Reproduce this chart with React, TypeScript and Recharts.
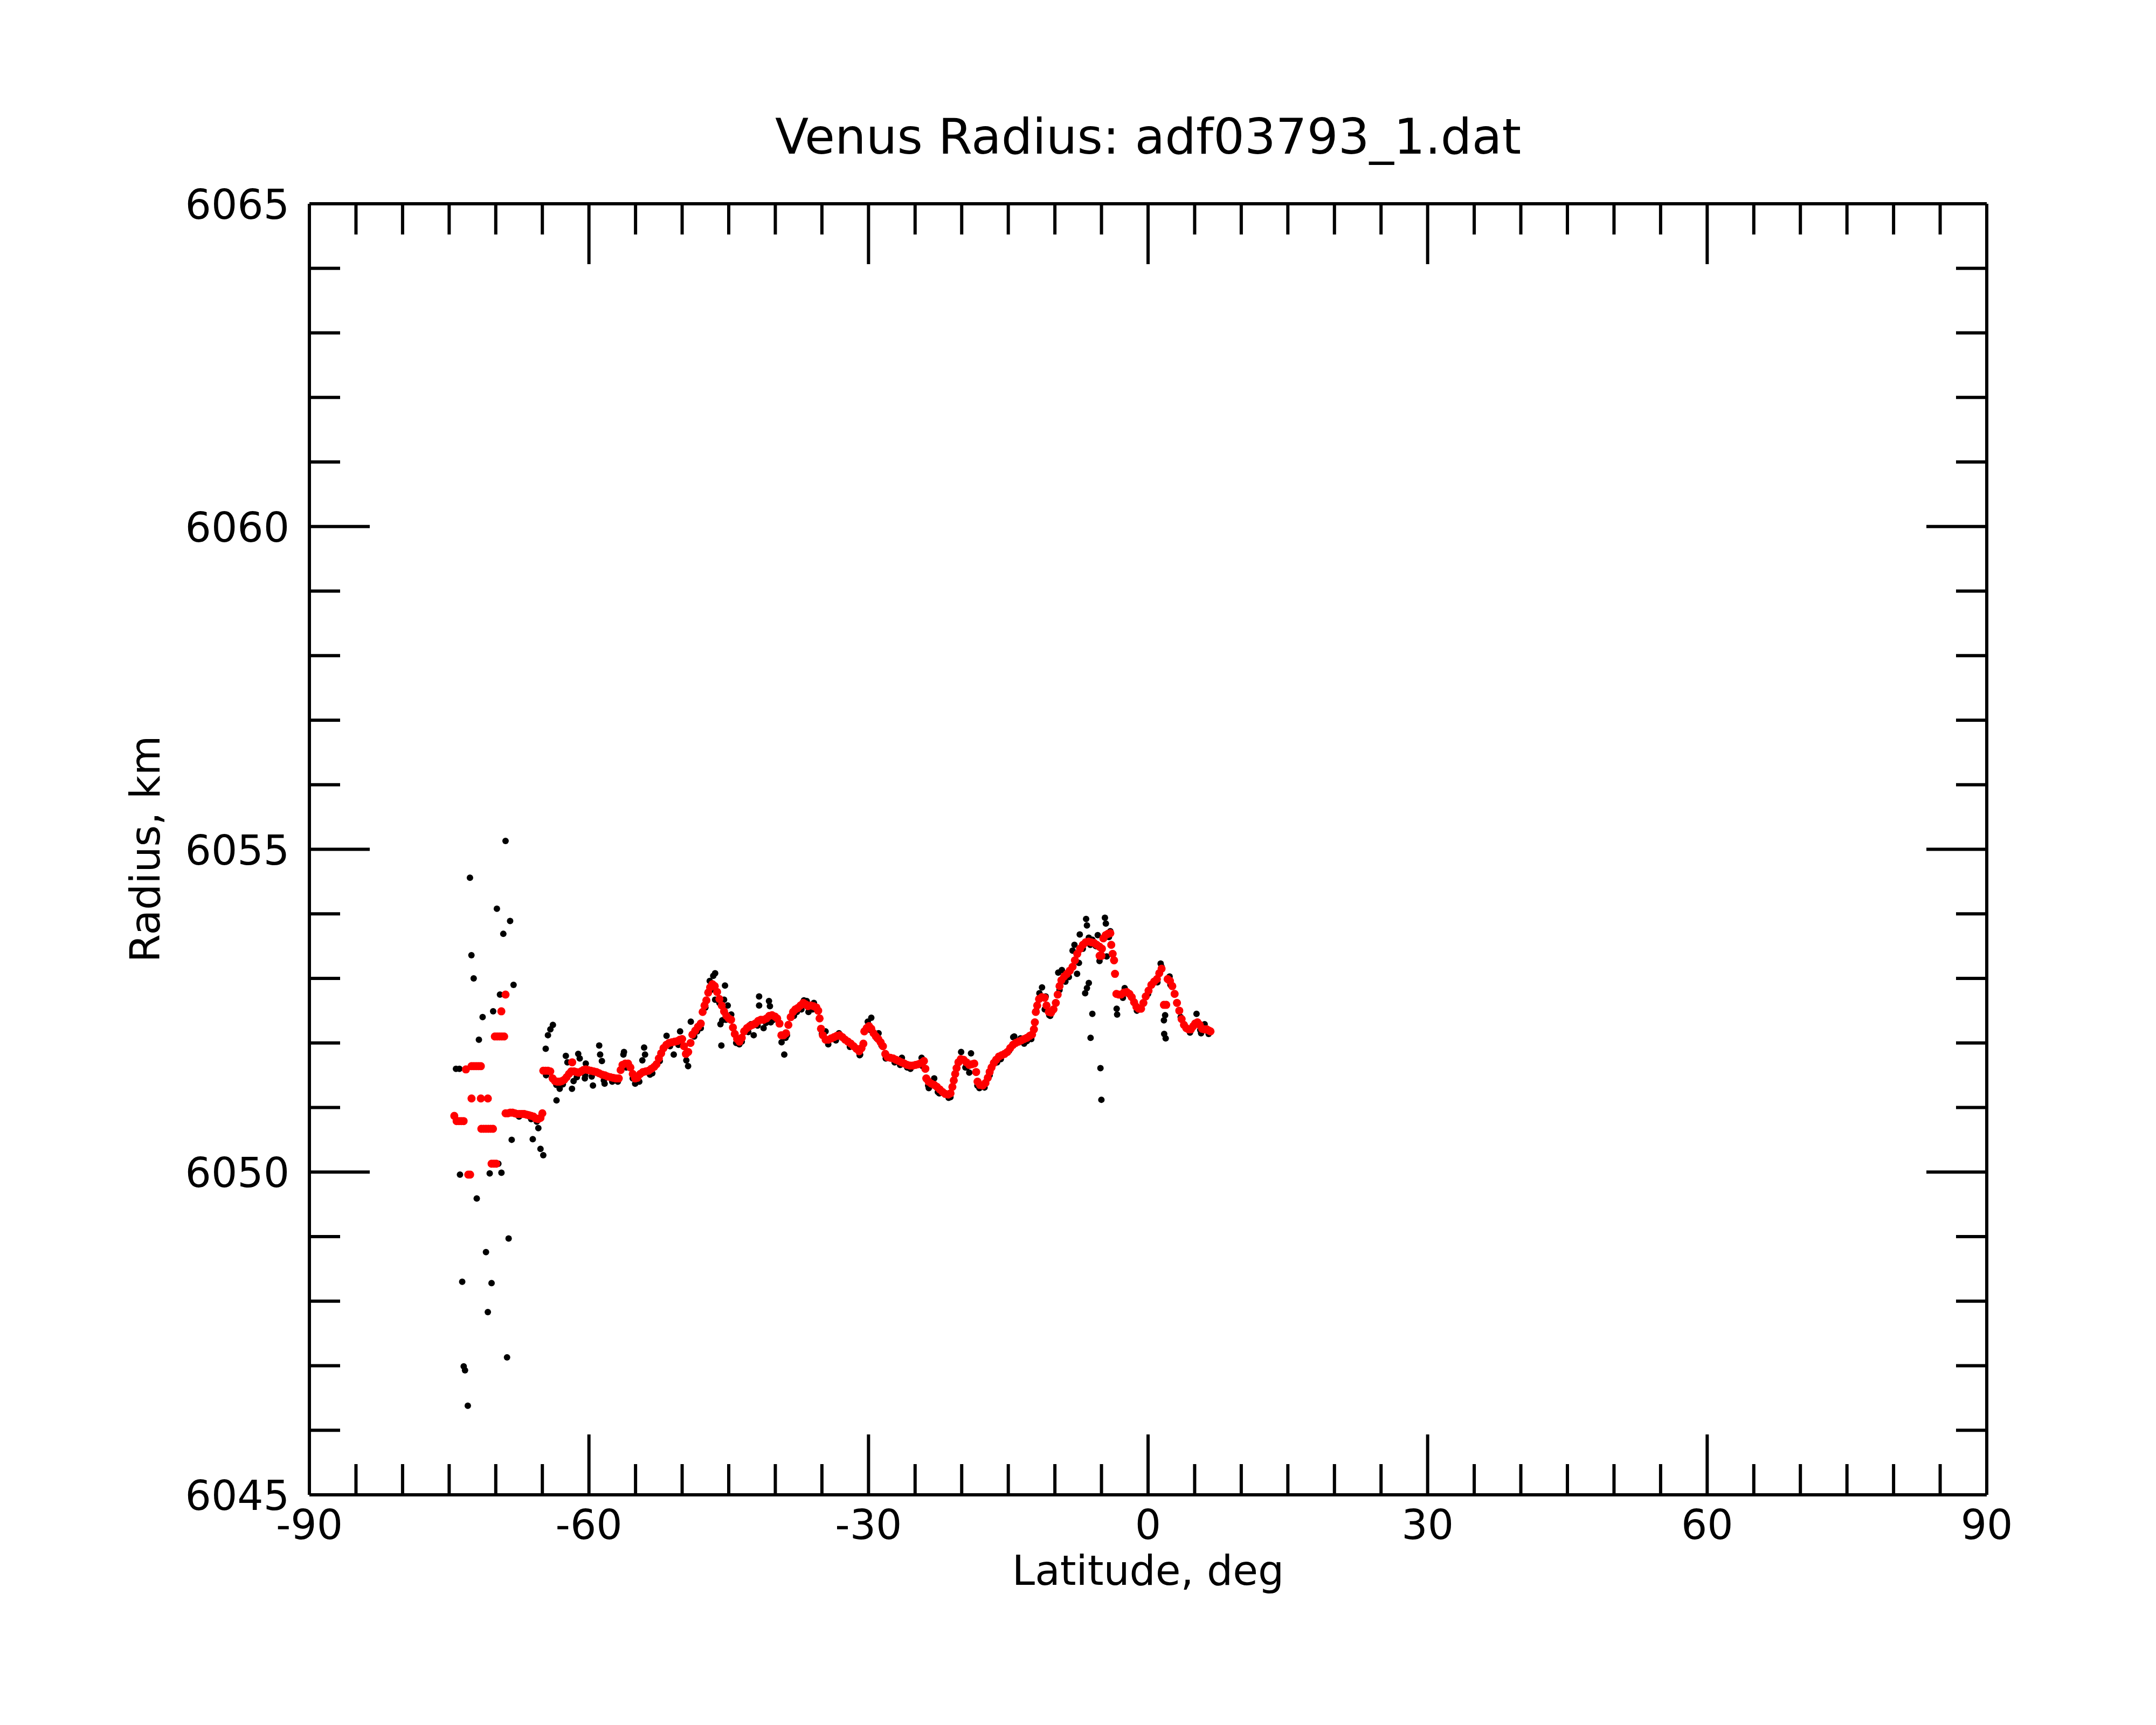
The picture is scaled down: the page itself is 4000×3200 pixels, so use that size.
import React from 'react';
import { ScatterChart, Scatter, XAxis, YAxis } from 'recharts';

// axis ticks
const xMajor = [-90, -60, -30, 0, 30, 60, 90];
const xTicks = [
  -90, -85, -80, -75, -70, -65, -60, -55, -50, -45, -40, -35, -30, -25, -20, -15, -10, -5, 0,
  5, 10, 15, 20, 25, 30, 35, 40, 45, 50, 55, 60, 65, 70, 75, 80, 85, 90,
];
const yMajor = [6045, 6050, 6055, 6060, 6065];
const yTicks = [
  6045, 6046, 6047, 6048, 6049, 6050, 6051, 6052, 6053, 6054, 6055, 6056, 6057, 6058, 6059,
  6060, 6061, 6062, 6063, 6064, 6065,
];

// red (smoothed) – stepped polar part
const redPolarLat = [
  -74.45, -74.2, -73.95, -73.7, -73.45, -73.2, -72.95, -72.75, -72.6, -72.35, -72.1, -71.85, -71.6,
  -72.6, -71.6, -70.85, -71.55, -71.3, -71.05, -70.8, -70.55, -70.3, -70.45, -70.2, -69.95,
  -70.1, -69.85, -69.6, -69.35, -69.1, -69.4, -68.95,
  -68.95, -68.7, -68.45, -68.2, -67.95, -67.7, -67.45, -67.2, -66.95, -66.7, -66.45, -66.2,
  -65.95, -65.7, -65.45, -65.2, -65.0,
];
const redPolarRad = [
  6050.87, 6050.79, 6050.79, 6050.79, 6050.79, 6051.59, 6049.96, 6049.96, 6051.64, 6051.64, 6051.64, 6051.64, 6051.64,
  6051.14, 6051.14, 6051.14, 6050.67, 6050.67, 6050.67, 6050.67, 6050.67, 6050.67, 6050.13, 6050.13, 6050.13,
  6052.1, 6052.1, 6052.1, 6052.1, 6052.1, 6052.49, 6052.75,
  6050.91, 6050.91, 6050.92, 6050.92, 6050.91, 6050.9, 6050.9, 6050.9, 6050.9, 6050.89, 6050.88, 6050.87,
  6050.86, 6050.83, 6050.82, 6050.84, 6050.91,
];

// red (smoothed) – main track
const redTrackLat = [
  -64.9, -64.65, -64.4, -64.15, -63.9, -63.65, -63.4, -63.15, -62.9, -62.65, -62.4, -62.15, -61.9, -61.8,
  -61.6, -61.35, -61.1, -60.85, -60.6, -60.35, -60.1, -59.8, -59.5, -59.2, -58.9, -58.6, -58.3, -58.0,
  -57.7, -57.4, -57.1, -56.8, -56.6, -56.4, -56.1, -55.8, -55.55, -55.3, -55.05, -54.8, -54.5, -54.2,
  -53.9, -53.6, -53.3, -53.0, -52.75, -52.5, -52.25, -52.0, -51.7, -51.4, -51.1, -50.8, -50.5, -50.25,
  -50.0, -49.8, -49.6, -49.35, -49.1, -48.9, -48.6, -48.3, -48.0, -47.8, -47.6, -47.4, -47.2, -47.0,
  -46.75, -46.5, -46.25, -46.0, -45.75, -45.5, -45.25, -45.0, -44.75, -44.55, -44.35, -44.1, -43.85,
  -43.6, -43.35, -43.05, -42.75, -42.45, -42.15, -41.85, -41.55, -41.25, -40.95, -40.65, -40.35, -40.05,
  -39.8, -39.55, -39.35, -39.1, -38.85, -38.6, -38.35, -38.1, -37.85,
  -37.6, -37.3, -37.0, -36.75, -36.5, -36.2, -35.9, -35.6, -35.4, -35.25, -35.1, -34.9, -34.6, -34.3,
  -34.0, -33.7, -33.4, -33.1, -32.8, -32.5, -32.2, -31.9, -31.6, -31.3, -31.0, -30.75, -30.55, -30.45,
  -30.2, -29.95, -29.7, -29.45, -29.2, -28.95, -28.7, -28.45, -28.2, -27.95, -27.65, -27.35, -27.05,
  -26.75, -26.45, -26.15, -25.85, -25.55, -25.25, -24.95, -24.65, -24.35, -24.05, -23.9, -23.8, -23.55,
  -23.25, -22.95, -22.65, -22.35, -22.05, -21.75, -21.45, -21.2, -21.0, -20.85, -20.7, -20.55, -20.35,
  -20.1, -19.8, -19.5, -19.2, -18.9, -18.65, -18.45, -18.3, -18.05, -17.75, -17.45, -17.2, -17.0, -16.8,
  -16.55, -16.3, -16.0, -15.7, -15.4, -15.1, -14.8, -14.5,
  -14.2, -13.9, -13.6, -13.3, -13.0, -12.7, -12.45, -12.25, -12.15, -12.05, -11.9, -11.7, -11.4, -11.1,
  -10.9, -10.65, -10.4, -10.15, -9.9, -9.7, -9.5, -9.3, -9.0, -8.7, -8.4, -8.1, -7.85, -7.6, -7.3, -7.0,
  -6.7, -6.4, -6.1, -5.8, -5.5, -5.2, -4.95, -5.2, -5.0, -4.8, -4.55, -4.3, -4.05, -3.95, -3.8, -3.65,
  -3.55, -3.4, -3.15, -2.9, -2.6, -2.3, -2.0, -1.75, -1.5, -1.25, -1.0, -0.75, -0.5, -0.25, 0.05, 0.35,
  0.65, 0.95, 1.2, 1.45, 1.7, 1.95, 2.1, 2.35, 2.6, 2.85, 3.1, 3.35, 3.6, 3.85, 4.1, 4.35, 4.6, 4.85,
  5.05, 5.3, 5.55, 5.8, 6.05, 6.3, 6.55, 6.7,
];
const redTrackRad = [
  6051.57, 6051.57, 6051.57, 6051.56, 6051.45, 6051.41, 6051.4, 6051.4, 6051.41, 6051.43, 6051.47, 6051.52, 6051.56, 6051.7,
  6051.56, 6051.55, 6051.54, 6051.56, 6051.58, 6051.59, 6051.58, 6051.57, 6051.56, 6051.55, 6051.53, 6051.51, 6051.5, 6051.48,
  6051.47, 6051.46, 6051.45, 6051.45, 6051.58, 6051.66, 6051.68, 6051.68, 6051.62, 6051.52, 6051.45, 6051.46, 6051.52, 6051.55,
  6051.56, 6051.57, 6051.6, 6051.63, 6051.67, 6051.76, 6051.84, 6051.92, 6051.97, 6052.0, 6052.01, 6052.02, 6052.03, 6052.05,
  6052.06, 6051.95, 6051.83, 6051.86, 6052.0, 6052.13, 6052.19, 6052.25, 6052.3, 6052.48, 6052.58, 6052.66, 6052.78, 6052.86,
  6052.91, 6052.88, 6052.79, 6052.68, 6052.58, 6052.49, 6052.42, 6052.38, 6052.36, 6052.24, 6052.14, 6052.06, 6052.02,
  6052.08, 6052.18, 6052.23, 6052.26, 6052.28, 6052.3, 6052.34, 6052.36, 6052.36, 6052.38, 6052.42, 6052.43, 6052.41,
  6052.38, 6052.3, 6052.12, 6052.12, 6052.15, 6052.28, 6052.4, 6052.48, 6052.52,
  6052.54, 6052.58, 6052.62, 6052.6, 6052.57, 6052.58, 6052.57, 6052.55, 6052.5, 6052.38, 6052.22, 6052.12, 6052.05, 6052.05,
  6052.07, 6052.09, 6052.11, 6052.12, 6052.09, 6052.05, 6052.02, 6051.99, 6051.95, 6051.91, 6051.87, 6051.92, 6051.99, 6052.18,
  6052.23, 6052.26, 6052.22, 6052.15, 6052.1, 6052.06, 6052.01, 6051.95, 6051.83, 6051.78, 6051.77, 6051.76, 6051.74,
  6051.72, 6051.7, 6051.68, 6051.66, 6051.65, 6051.65, 6051.66, 6051.67, 6051.69, 6051.72, 6051.6, 6051.45, 6051.4,
  6051.37, 6051.35, 6051.32, 6051.28, 6051.24, 6051.21, 6051.2, 6051.22, 6051.32, 6051.42, 6051.52, 6051.61, 6051.7,
  6051.75, 6051.74, 6051.7, 6051.66, 6051.67, 6051.68, 6051.55, 6051.4, 6051.35, 6051.34, 6051.38, 6051.46, 6051.55, 6051.62,
  6051.69, 6051.74, 6051.79, 6051.81, 6051.83, 6051.86, 6051.92, 6051.97,
  6052.0, 6052.02, 6052.04, 6052.06, 6052.08, 6052.11, 6052.13, 6052.21, 6052.32, 6052.48, 6052.58, 6052.68, 6052.71, 6052.7,
  6052.58, 6052.48, 6052.47, 6052.52, 6052.62, 6052.75, 6052.88, 6052.97, 6053.03, 6053.07, 6053.12, 6053.18, 6053.28, 6053.38, 6053.46, 6053.52,
  6053.56, 6053.57, 6053.56, 6053.55, 6053.52, 6053.49, 6053.46, 6053.35, 6053.35, 6053.62, 6053.67, 6053.69, 6053.7, 6053.52, 6053.38, 6053.28,
  6053.07, 6052.76, 6052.75, 6052.75, 6052.78, 6052.79, 6052.76, 6052.71, 6052.63, 6052.56, 6052.53, 6052.53, 6052.62, 6052.72, 6052.81, 6052.9,
  6052.95, 6052.99, 6053.08, 6053.15, 6052.59, 6052.59, 6052.99, 6052.96, 6052.88, 6052.76, 6052.62, 6052.5, 6052.37, 6052.28, 6052.23, 6052.21, 6052.21, 6052.26,
  6052.3, 6052.32, 6052.28, 6052.22, 6052.21, 6052.21, 6052.19, 6052.18,
];

// black (raw) – points along the track
const blackTrackLat = [
  -64.6, -63.5, -62.8, -61.3, -60.4, -59.7, -58.4, -57.5, -56.9, -56.0, -55.3, -54.6, -53.2, -52.4, -51.3,
  -50.4, -48.7, -47.5, -46.9, -46.0, -45.3, -44.2, -43.6, -42.9, -41.9, -41.0, -40.2, -38.9, -38.0, -37.2,
  -36.0, -35.0, -33.5, -32.0, -30.9, -29.8, -28.6, -27.2, -25.5, -24.2, -23.6, -22.4, -21.4, -20.2, -19.6,
  -18.1, -17.0, -15.8, -14.9, -13.0, -12.0, -10.5, -9.5, -8.5, -7.0, -6.2, -5.6, -4.2, -2.7, -1.2, 0.0,
  1.0, 2.4, 3.5, 4.5, 5.6, 6.5,
];
const blackTrackRad = [
  6051.5, 6051.35, 6051.36, 6051.47, 6051.5, 6051.48, 6051.42, 6051.4, 6051.4, 6051.62, 6051.45, 6051.4, 6051.53, 6051.72, 6051.95,
  6051.97, 6052.1, 6052.55, 6052.82, 6052.62, 6052.36, 6052.0, 6052.02, 6052.17, 6052.27, 6052.31, 6052.36, 6052.08, 6052.42, 6052.52,
  6052.52, 6052.14, 6052.04, 6051.94, 6051.82, 6052.2, 6051.96, 6051.7, 6051.6, 6051.64, 6051.34, 6051.22, 6051.15, 6051.72, 6051.62,
  6051.3, 6051.5, 6051.75, 6051.88, 6052.03, 6052.5, 6052.42, 6052.82, 6053.02, 6053.46, 6053.52, 6053.5, 6053.64, 6052.7, 6052.5, 6052.76,
  6052.94, 6052.9, 6052.4, 6052.16, 6052.2, 6052.14,
];

// black (raw) – scattered points
const blackScatterLat = [
  -68.95, -72.77, -69.88, -68.46, -69.19, -72.61, -72.37, -68.09, -69.55, -70.28, -71.41, -69.85, -71.81, -74.27, -73.9,
  -68.29, -66.03, -65.2, -64.9, -65.43, -73.84, -70.65, -69.39, -69.72, -72.04, -68.62, -71.05, -73.6, -70.45, -70.85,
  -68.79, -73.44, -73.3, -73.0, -67.5, -66.9, -66.2, -65.6,
  -64.64, -64.4, -64.14, -63.87, -63.48, -63.14, -62.48, -62.31, -61.82, -61.65, -61.15, -60.99, -60.34, -60.44, -59.57,
  -58.9, -58.8, -58.61, -58.32, -56.24, -56.3, -55.04, -54.08, -53.98, -54.27, -53.45, -51.67, -50.22, -50.9, -49.55,
  -49.36, -49.07, -48.39, -48.0, -46.46, -46.66, -47.04, -45.4, -46.46, -45.5, -45.11, -44.73, -45.89, -45.7, -45.79,
  -43.86, -42.61, -42.32, -41.74, -41.74, -40.68, -40.58, -41.26, -40.49, -39.33, -39.04, -38.75, -37.69, -36.63,
  -36.93, -35.86, -36.44, -34.61, -34.32, -33.17, -31.82, -30.95, -29.7, -30.08, -28.92, -29.12, -28.15, -26.42, -26.61,
  -25.84, -24.3, -22.95, -23.53, -22.56, -21.21, -20.06, -19.0, -19.48, -19.19, -18.32, -17.55, -16.2, -14.47, -13.69,
  -14.36, -13.3, -12.53, -11.38, -11.66, -10.99, -11.09, -10.6, -9.25, -8.87, -9.64, -8.1, -7.9, -7.33, -7.62, -7.42,
  -6.65, -6.56, -5.4, -5.98, -6.36, -4.63, -4.53, -4.05, -5.21, -4.44, -6.36, -6.56, -6.75, -5.98, -6.17, -5.11, -5.01,
  -3.37, -3.32, -2.51, -0.97, 0.58, 0.96, 1.35, 1.45, 1.83, 1.7, 1.73, 1.89, 2.31, 5.2, 5.69, 6.07,
];
const blackScatterRad = [
  6055.13, 6054.56, 6054.08, 6053.89, 6053.69, 6053.36, 6053.0, 6052.9, 6052.75, 6052.49, 6052.4, 6052.1, 6052.05, 6051.6, 6051.6,
  6050.5, 6050.51, 6050.36, 6050.26, 6050.68, 6049.96, 6049.98, 6049.99, 6050.13, 6049.59, 6048.97, 6048.76, 6048.3, 6048.28, 6047.83,
  6047.13, 6046.99, 6046.93, 6046.38, 6050.86, 6050.89, 6050.82, 6050.78,
  6051.91, 6052.12, 6052.21, 6052.28, 6051.11, 6051.29, 6051.8, 6051.7, 6051.29, 6051.41, 6051.83, 6051.76, 6051.68, 6051.45, 6051.34,
  6051.96, 6051.82, 6051.72, 6051.37, 6051.86, 6051.82, 6051.37, 6051.93, 6051.82, 6051.73, 6051.51, 6052.11, 6052.18, 6051.82, 6051.73,
  6051.64, 6052.33, 6052.18, 6052.23, 6053.08, 6053.04, 6052.96, 6052.89, 6052.67, 6052.67, 6052.58, 6052.44, 6052.29, 6052.35, 6051.96,
  6051.98, 6052.29, 6052.12, 6052.72, 6052.58, 6052.65, 6052.57, 6052.23, 6052.32, 6052.01, 6051.82, 6052.12, 6052.48, 6052.65,
  6052.66, 6052.62, 6052.48, 6052.18, 6051.98, 6052.15, 6051.95, 6051.81, 6052.39, 6052.33, 6052.15, 6052.07, 6051.76, 6051.77, 6051.66,
  6051.62, 6051.77, 6051.45, 6051.3, 6051.24, 6051.16, 6051.86, 6051.84, 6051.62, 6051.54, 6051.34, 6051.31, 6051.7, 6052.09, 6052.07,
  6052.1, 6051.99, 6052.06, 6052.86, 6052.77, 6052.72, 6052.52, 6052.43, 6053.13, 6052.95, 6053.09, 6053.43, 6053.52, 6053.68, 6053.07, 6053.24,
  6053.92, 6053.82, 6053.67, 6053.6, 6053.63, 6053.94, 6053.85, 6053.73, 6053.27, 6053.34, 6052.93, 6052.85, 6052.77, 6052.45, 6052.08, 6051.61, 6051.12,
  6052.53, 6052.44, 6052.85, 6052.53, 6052.93, 6052.96, 6053.23, 6053.18, 6052.43, 6052.35, 6052.14, 6052.07, 6053.03, 6052.45, 6052.15, 6052.29,
];

const zip = (lat: number[], rad: number[]) => lat.map((v, i) => ({ lat: v, r: rad[i] }));

const blackData = [...zip(blackScatterLat, blackScatterRad), ...zip(blackTrackLat, blackTrackRad)];
const redData = [...zip(redPolarLat, redPolarRad), ...zip(redTrackLat, redTrackRad)];

const FONT = 'DejaVu Sans';
const LW = 6;
const MAJOR_LEN = 112;
const MINOR_LEN = 57;

const BottomTick = (props: any) => {
  const { x, y, payload } = props;
  const major = xMajor.includes(payload.value);
  return (
    <g>
      <line x1={x} x2={x} y1={y} y2={y - (major ? MAJOR_LEN : MINOR_LEN)} stroke="#000" strokeWidth={LW} />
      {major && (
        <text x={x} y={y + 82} textAnchor="middle" fontFamily={FONT} fontSize={76} fill="#000">
          {payload.value}
        </text>
      )}
    </g>
  );
};

const TopTick = (props: any) => {
  const { x, y, payload } = props;
  const major = xMajor.includes(payload.value);
  return <line x1={x} x2={x} y1={y} y2={y + (major ? MAJOR_LEN : MINOR_LEN)} stroke="#000" strokeWidth={LW} />;
};

const LeftTick = (props: any) => {
  const { x, y, payload } = props;
  const major = yMajor.includes(payload.value);
  return (
    <g>
      <line x1={x} x2={x + (major ? MAJOR_LEN : MINOR_LEN)} y1={y} y2={y} stroke="#000" strokeWidth={LW} />
      {major && (
        <text x={x - 37} y={y + 28} textAnchor="end" fontFamily={FONT} fontSize={76} fill="#000">
          {payload.value}
        </text>
      )}
    </g>
  );
};

const RightTick = (props: any) => {
  const { x, y, payload } = props;
  const major = yMajor.includes(payload.value);
  return <line x1={x} x2={x - (major ? MAJOR_LEN : MINOR_LEN)} y1={y} y2={y} stroke="#000" strokeWidth={LW} />;
};

const dot = (r: number, fill: string) => (p: any) => <circle cx={p.cx} cy={p.cy} r={r} fill={fill} />;
const noDot = () => <g />;

const axisLine = { stroke: '#000', strokeWidth: LW };

export default function App() {
  return (
    <div style={{ position: 'absolute', left: 0, top: 0, width: 4000, height: 3200, background: '#fff' }}>
      <ScatterChart width={4000} height={3200} margin={{ top: 368, right: 304, bottom: 327, left: 474 }}>
        <XAxis
          xAxisId="bottom"
          dataKey="lat"
          type="number"
          domain={[-90, 90]}
          ticks={xTicks}
          interval={0}
          height={100}
          tickLine={false}
          tickSize={0}
          tickMargin={0}
          axisLine={axisLine}
          tick={<BottomTick />}
        />
        <XAxis
          xAxisId="top"
          dataKey="lat"
          orientation="top"
          type="number"
          domain={[-90, 90]}
          ticks={xTicks}
          interval={0}
          height={10}
          tickLine={false}
          tickSize={0}
          tickMargin={0}
          axisLine={axisLine}
          tick={<TopTick />}
        />
        <YAxis
          yAxisId="left"
          dataKey="r"
          type="number"
          domain={[6045, 6065]}
          ticks={yTicks}
          interval={0}
          width={100}
          tickLine={false}
          tickSize={0}
          tickMargin={0}
          axisLine={axisLine}
          tick={<LeftTick />}
        />
        <YAxis
          yAxisId="right"
          dataKey="r"
          orientation="right"
          type="number"
          domain={[6045, 6065]}
          ticks={yTicks}
          interval={0}
          width={10}
          tickLine={false}
          tickSize={0}
          tickMargin={0}
          axisLine={axisLine}
          tick={<RightTick />}
        />
        {/* invisible series so the top and right frame axes get drawn */}
        <Scatter data={redData} xAxisId="top" yAxisId="right" shape={noDot} isAnimationActive={false} />
        <Scatter data={blackData} xAxisId="bottom" yAxisId="left" shape={dot(6, '#000')} isAnimationActive={false} />
        <Scatter data={redData} xAxisId="bottom" yAxisId="left" shape={dot(7.5, '#ff0000')} isAnimationActive={false} />
      </ScatterChart>
      <svg width={4000} height={3200} style={{ position: 'absolute', left: 0, top: 0, pointerEvents: 'none' }}>
        <text x={2130} y={285} textAnchor="middle" fontFamily={FONT} fontSize={91} fill="#000">
          Venus Radius: adf03793_1.dat
        </text>
        <text x={2130} y={2940} textAnchor="middle" fontFamily={FONT} fontSize={76} fill="#000">
          Latitude, deg
        </text>
        <text
          x={296}
          y={1575}
          textAnchor="middle"
          fontFamily={FONT}
          fontSize={76}
          fill="#000"
          transform="rotate(-90, 296, 1575)"
        >
          Radius, km
        </text>
      </svg>
    </div>
  );
}
